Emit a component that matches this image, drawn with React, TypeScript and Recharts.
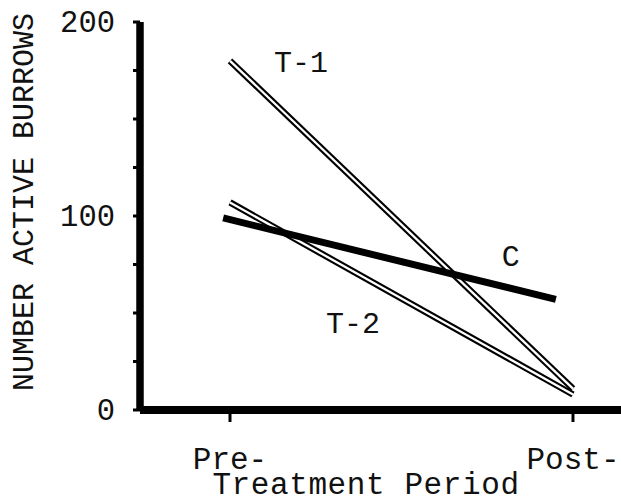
import React from 'react';
import { LineChart, Line, XAxis, YAxis, Label } from 'recharts';

// x positions: 1 = Pre-treatment, 2 = Post-treatment
const periods = [1, 2];
const periodLabels = ['Pre-', 'Post-'];
const t1Values = [180, 11];
const t2Values = [107, 8];
const cPositions = [0.98, 1.95];
const cValues = [99, 57];
const yTicks = [0, 25, 50, 75, 100, 125, 150, 175, 200];
const yLabelTicks = [0, 100, 200];
const seriesNames = { t1: 'T-1', t2: 'T-2', c: 'C' };

const t1Data = periods.map((x, i) => ({ x, y: t1Values[i] }));
const t2Data = periods.map((x, i) => ({ x, y: t2Values[i] }));
const cData = cPositions.map((x, i) => ({ x, y: cValues[i] }));

const FONT = "'Liberation Mono', 'DejaVu Sans Mono', monospace";
const INK = '#111';

const makeLabel = (text: string, index: number, dx: number, dy: number) => (props: any) => {
  if (props.index !== index) return <g />;
  return (
    <text x={props.x + dx} y={props.y + dy} textAnchor="middle" fontFamily={FONT} fontSize={30} fill={INK}>
      {text}
    </text>
  );
};

const YTick = (props: any) => {
  const { x, y, payload } = props;
  if (!yLabelTicks.includes(payload.value)) return <g />;
  return (
    <text x={x} y={y + 10} textAnchor="end" fontFamily={FONT} fontSize={30.5} fill={INK}>
      {payload.value}
    </text>
  );
};

const XTick = (props: any) => {
  const { x, y, payload } = props;
  const idx = periods.indexOf(payload.value);
  return (
    <text x={x} y={y + 47} textAnchor="middle" fontFamily={FONT} fontSize={31} fill={INK}>
      {periodLabels[idx]}
    </text>
  );
};

export default function App() {
  return (
    <div style={{ position: 'absolute', left: 0, top: 0, width: 621, height: 504, background: '#fff' }}>
      <LineChart width={621} height={504} margin={{ top: 22, right: 0, bottom: 0, left: 0 }}>
        <XAxis
          type="number"
          dataKey="x"
          domain={[0.7376, 2.14]}
          allowDataOverflow
          ticks={periods}
          interval={0}
          height={94}
          tickSize={12}
          tickMargin={0}
          axisLine={{ stroke: '#000', strokeWidth: 8 }}
          tickLine={{ stroke: '#000', strokeWidth: 3 }}
          tick={<XTick />}
        >
          <Label
            content={(p: any) => {
              const vb = p.viewBox;
              return (
                <text x={vb.x + 226} y={vb.y + 84} textAnchor="middle" fontFamily={FONT} fontSize={31} letterSpacing={0.6} fill={INK}>
                  Treatment Period
                </text>
              );
            }}
          />
        </XAxis>
        <YAxis
          type="number"
          domain={[0, 200]}
          ticks={yTicks}
          interval={0}
          width={140}
          tickSize={7}
          tickMargin={18}
          axisLine={{ stroke: '#000', strokeWidth: 7.5 }}
          tickLine={{ stroke: '#000', strokeWidth: 3 }}
          tick={<YTick />}
        >
          <Label
            content={(p: any) => {
              const vb = p.viewBox;
              const cx = vb.x + 33;
              const cy = vb.y + vb.height / 2 - 14;
              return (
                <text
                  x={cx}
                  y={cy}
                  textAnchor="middle"
                  transform={`rotate(-90 ${cx} ${cy})`}
                  fontFamily={FONT}
                  fontSize={30}
                  fill={INK}
                >
                  NUMBER ACTIVE BURROWS
                </text>
              );
            }}
          />
        </YAxis>
        <Line data={t1Data} dataKey="y" stroke="#000" strokeWidth={6.5} dot={false} activeDot={false} isAnimationActive={false} />
        <Line data={t1Data} dataKey="y" stroke="#fff" strokeWidth={2.3} dot={false} activeDot={false} isAnimationActive={false}
          label={makeLabel(seriesNames.t1, 0, 71, 11)} />
        <Line data={t2Data} dataKey="y" stroke="#000" strokeWidth={6.5} dot={false} activeDot={false} isAnimationActive={false} />
        <Line data={t2Data} dataKey="y" stroke="#fff" strokeWidth={2.3} dot={false} activeDot={false} isAnimationActive={false}
          label={makeLabel(seriesNames.t2, 0, 123, 131)} />
        <Line data={cData} dataKey="y" stroke="#000" strokeWidth={7} dot={false} activeDot={false} isAnimationActive={false}
          label={makeLabel(seriesNames.c, 1, -45, -33)} />
      </LineChart>
    </div>
  );
}
